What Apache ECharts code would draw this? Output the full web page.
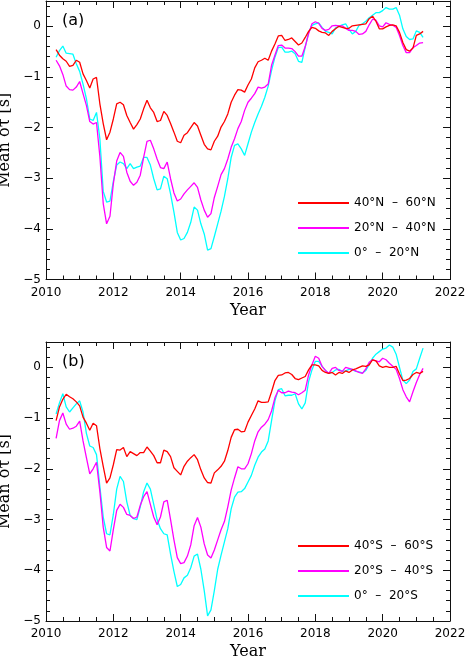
<!DOCTYPE html>
<html>
<head>
<meta charset="utf-8">
<script src="https://cdn.jsdelivr.net/npm/echarts@6/dist/echarts.min.js"></script>
<style>
  html, body { margin: 0; padding: 0; background: #fff; }
  #chart { width: 465px; height: 657px; }
</style>
</head>
<body>
<div id="chart"></div>
<script>
// 时间轴（年）
const years = [
  2010.3, 2010.4, 2010.5, 2010.6, 2010.7, 2010.8, 2010.9,
  2011.0, 2011.1, 2011.2, 2011.3, 2011.4, 2011.5, 2011.6, 2011.7, 2011.8, 2011.9,
  2012.0, 2012.1, 2012.2, 2012.3, 2012.4, 2012.5, 2012.6, 2012.7, 2012.8, 2012.9,
  2013.0, 2013.1, 2013.2, 2013.3, 2013.4, 2013.5, 2013.6, 2013.7, 2013.8, 2013.9,
  2014.0, 2014.1, 2014.2, 2014.3, 2014.4, 2014.5, 2014.6, 2014.7, 2014.8, 2014.9,
  2015.0, 2015.1, 2015.2, 2015.3, 2015.4, 2015.5, 2015.6, 2015.7, 2015.8, 2015.9,
  2016.0, 2016.1, 2016.2, 2016.3, 2016.4, 2016.5, 2016.6, 2016.7, 2016.8, 2016.9,
  2017.0, 2017.1, 2017.2, 2017.3, 2017.4, 2017.5, 2017.6, 2017.7, 2017.8, 2017.9,
  2018.0, 2018.1, 2018.2, 2018.3, 2018.4, 2018.5, 2018.6, 2018.7, 2018.8, 2018.9,
  2019.0, 2019.1, 2019.2, 2019.3, 2019.4, 2019.5, 2019.6, 2019.7, 2019.8, 2019.9,
  2020.0, 2020.1, 2020.2, 2020.3, 2020.4, 2020.5, 2020.6, 2020.7, 2020.8, 2020.9,
  2021.0, 2021.1, 2021.2
];

// (a) 北半球
const namesN = ["40°N  –  60°N", "20°N  –  40°N", "0°  –  20°N"];
const n40to60 = [
  -0.46, -0.57, -0.64, -0.69, -0.79, -0.77, -0.67,
  -0.71, -0.94, -1.07, -1.22, -1.04, -1.01, -1.53, -1.92, -2.24, -2.09,
  -1.83, -1.53, -1.50, -1.55, -1.76, -1.90, -2.03, -1.94, -1.83, -1.63,
  -1.46, -1.61, -1.70, -1.88, -1.86, -1.68, -1.76, -1.92, -2.09, -2.27,
  -2.30, -2.15, -2.10, -2.00, -1.90, -1.97, -2.15, -2.33, -2.42, -2.44,
  -2.27, -2.17, -1.99, -1.88, -1.73, -1.50, -1.36, -1.25, -1.26, -1.30,
  -1.16, -1.04, -0.82, -0.70, -0.67, -0.63, -0.67, -0.49, -0.35, -0.19,
  -0.18, -0.28, -0.26, -0.23, -0.30, -0.37, -0.33, -0.22, -0.10, -0.02,
  -0.04, -0.09, -0.12, -0.13, -0.18, -0.10, -0.05, 0.00, -0.02, -0.04,
  -0.04, 0.01, 0.02, 0.03, 0.04, 0.05, 0.15, 0.20, 0.10, -0.05,
  -0.05, -0.01, 0.02, 0.03, 0.01, -0.12, -0.32, -0.46, -0.49, -0.43,
  -0.18, -0.15, -0.10
];
const n20to40 = [
  -0.67, -0.78, -0.95, -1.18, -1.25, -1.26, -1.20,
  -1.09, -1.33, -1.56, -1.88, -1.93, -1.90, -2.57, -3.50, -3.90, -3.75,
  -3.11, -2.66, -2.49, -2.57, -2.88, -3.06, -3.14, -3.08, -2.94, -2.59,
  -2.27, -2.25, -2.42, -2.62, -2.79, -2.81, -2.68, -3.01, -3.29, -3.45,
  -3.41, -3.31, -3.23, -3.16, -3.09, -3.18, -3.43, -3.63, -3.77, -3.70,
  -3.38, -3.16, -2.93, -2.81, -2.62, -2.39, -2.22, -2.02, -1.88, -1.66,
  -1.50, -1.42, -1.33, -1.20, -1.22, -1.20, -1.14, -0.77, -0.57, -0.38,
  -0.37, -0.43, -0.43, -0.44, -0.50, -0.59, -0.59, -0.40, -0.15, 0.05,
  0.09, 0.06, -0.04, -0.08, -0.06, 0.01, 0.02, 0.01, 0.01, -0.04,
  -0.08, -0.08, -0.10, -0.16, -0.15, -0.10, 0.03, 0.14, 0.12, 0.01,
  -0.01, 0.07, 0.04, 0.02, -0.02, -0.18, -0.38, -0.52, -0.52, -0.42,
  -0.38, -0.33, -0.32
];
const n0to20 = [
  -0.61, -0.48, -0.39, -0.53, -0.54, -0.55, -0.74,
  -0.89, -1.14, -1.43, -1.83, -1.86, -1.70, -2.22, -3.26, -3.47, -3.45,
  -3.06, -2.74, -2.68, -2.71, -2.81, -2.71, -2.81, -2.78, -2.76, -2.59,
  -2.59, -2.74, -3.01, -3.23, -3.21, -2.96, -3.01, -3.31, -3.67, -4.07,
  -4.22, -4.19, -4.07, -3.87, -3.57, -3.63, -3.90, -4.10, -4.42, -4.39,
  -4.15, -3.90, -3.65, -3.36, -3.01, -2.59, -2.35, -2.32, -2.42, -2.55,
  -2.32, -2.09, -1.90, -1.73, -1.58, -1.40, -1.18, -0.87, -0.61, -0.42,
  -0.41, -0.51, -0.51, -0.49, -0.54, -0.69, -0.71, -0.41, -0.12, 0.02,
  0.05, 0.07, -0.02, -0.10, -0.12, -0.15, -0.03, 0.00, 0.03, 0.05,
  -0.06, -0.15, -0.10, 0.02, 0.05, 0.10, 0.17, 0.22, 0.27, 0.27,
  0.31, 0.37, 0.34, 0.34, 0.37, 0.22, -0.05, -0.20, -0.26, -0.25,
  -0.09, -0.12, -0.22
];

// (b) 南半球
const namesS = ["40°S  –  60°S", "20°S  –  40°S", "0°  –  20°S"];
const s40to60 = [
  -1.05, -0.78, -0.63, -0.53, -0.58, -0.62, -0.68,
  -0.76, -0.98, -1.10, -1.24, -1.10, -1.15, -1.60, -1.95, -2.28, -2.18,
  -1.92, -1.62, -1.63, -1.58, -1.76, -1.66, -1.70, -1.74, -1.68, -1.68,
  -1.57, -1.65, -1.74, -1.88, -1.88, -1.63, -1.66, -1.76, -1.98, -2.05,
  -2.12, -1.95, -1.85, -1.78, -1.72, -1.82, -2.02, -2.18, -2.27, -2.28,
  -2.08, -2.02, -1.95, -1.85, -1.64, -1.38, -1.23, -1.22, -1.27, -1.26,
  -1.08, -0.95, -0.82, -0.66, -0.69, -0.69, -0.68, -0.48, -0.26, -0.16,
  -0.15, -0.11, -0.10, -0.14, -0.22, -0.24, -0.21, -0.18, -0.05, 0.05,
  0.05, 0.03, -0.06, -0.10, -0.12, -0.10, -0.15, -0.10, -0.12, -0.07,
  -0.10, -0.05, -0.03, 0.00, 0.03, 0.02, 0.05, 0.15, 0.13, 0.03,
  0.00, 0.02, 0.00, 0.00, 0.02, -0.13, -0.26, -0.25, -0.22, -0.14,
  -0.10, -0.12, -0.08
];
const s20to40 = [
  -1.40, -1.05, -0.90, -1.12, -1.22, -1.20, -1.16,
  -1.06, -1.45, -1.78, -2.10, -2.00, -1.87, -2.45, -3.15, -3.55, -3.62,
  -3.20, -2.82, -2.70, -2.76, -2.90, -2.92, -2.98, -2.95, -2.72, -2.55,
  -2.45, -2.70, -2.95, -3.10, -2.95, -2.65, -2.62, -3.00, -3.40, -3.75,
  -3.87, -3.85, -3.72, -3.50, -3.12, -2.96, -3.15, -3.48, -3.70, -3.76,
  -3.60, -3.40, -3.20, -3.04, -2.75, -2.42, -2.18, -1.96, -2.00, -2.00,
  -1.90, -1.70, -1.45, -1.27, -1.18, -1.12, -1.03, -0.86, -0.60, -0.45,
  -0.50, -0.50, -0.47, -0.49, -0.50, -0.54, -0.50, -0.45, -0.15, 0.05,
  0.22, 0.18, 0.02, -0.06, -0.12, -0.02, 0.00, -0.06, -0.08, 0.00,
  -0.02, -0.04, -0.07, -0.10, -0.12, -0.03, 0.10, 0.15, 0.13, 0.11,
  0.18, 0.15, 0.08, 0.02, -0.04, -0.22, -0.44, -0.58, -0.68, -0.48,
  -0.30, -0.14, -0.02
];
const s0to20 = [
  -0.92, -0.70, -0.52, -0.78, -0.88, -0.80, -0.72,
  -0.66, -0.88, -1.30, -1.55, -1.58, -1.72, -2.35, -2.95, -3.28, -3.30,
  -2.90, -2.40, -2.15, -2.25, -2.65, -2.92, -2.98, -3.00, -2.75, -2.45,
  -2.28, -2.40, -2.70, -3.00, -3.18, -3.28, -3.30, -3.68, -4.02, -4.32,
  -4.28, -4.15, -4.10, -3.95, -3.72, -3.68, -3.98, -4.40, -4.90, -4.78,
  -4.40, -3.98, -3.70, -3.44, -3.18, -2.79, -2.56, -2.46, -2.45, -2.39,
  -2.26, -2.13, -1.93, -1.77, -1.67, -1.61, -1.45, -1.05, -0.66, -0.44,
  -0.42, -0.56, -0.55, -0.55, -0.52, -0.72, -0.82, -0.70, -0.28, -0.05,
  0.12, 0.12, 0.02, -0.06, -0.12, -0.10, -0.05, -0.04, -0.08, -0.07,
  -0.04, -0.04, -0.08, -0.09, -0.11, -0.06, 0.06, 0.18, 0.26, 0.31,
  0.36, 0.38, 0.44, 0.40, 0.26, 0.00, -0.25, -0.32, -0.25, -0.08,
  -0.03, 0.18, 0.38
];

const colors = ["#ff0000", "#ff00ff", "#00ffff"];
const ink = "#111111";
const tickFont = "DejaVu Sans";
const nameFont = "DejaVu Serif";

const chart = echarts.init(document.getElementById("chart"));

const panelRects = [
  { left: 46, width: 404, top: 1, height: 278.5 },
  { left: 46, width: 404, top: 342, height: 279 }
];

const grids = [];
const xAxes = [];
const yAxes = [];
const series = [];
const legends = [];
const titles = [];

function pairs(vals) {
  return years.map((y, i) => [y, vals[i]]);
}

// 每个面板叠放 4 个同尺寸 grid：主刻度（下/左、上/右）和小刻度（下/左、上/右）
function addPanel(p, label, names, data, legendTop) {
  const rect = panelRects[p];
  const layers = [
    { xPos: "bottom", yPos: "left", xInt: 2, yInt: 1, len: 7, line: true, main: true },
    { xPos: "top", yPos: "right", xInt: 2, yInt: 1, len: 7, line: true, main: false },
    { xPos: "bottom", yPos: "left", xInt: 0.5, yInt: 0.2, len: 4, line: false, main: false },
    { xPos: "top", yPos: "right", xInt: 0.5, yInt: 0.2, len: 4, line: false, main: false }
  ];
  layers.forEach((L) => {
    const g = grids.length;
    grids.push(Object.assign({ outerBoundsMode: "none", containLabel: false }, rect));
    const xAxis = {
      gridIndex: g, type: "value", position: L.xPos,
      min: 2010, max: 2022, interval: L.xInt,
      axisLine: { show: L.line, onZero: false, lineStyle: { color: ink, width: 1 } },
      axisTick: { show: true, inside: true, length: L.len, lineStyle: { color: ink, width: 1 } },
      axisLabel: {
        show: L.main, color: "#000", fontFamily: tickFont, fontSize: 12, margin: 7,
        formatter: (v) => L.main ? String(v) : ""
      },
      splitLine: { show: false }
    };
    const yAxis = {
      gridIndex: g, type: "value", position: L.yPos,
      min: -5, max: 0.5, interval: L.yInt,
      axisLine: { show: L.line, onZero: false, lineStyle: { color: ink, width: 1 } },
      axisTick: { show: true, inside: true, length: L.len, lineStyle: { color: ink, width: 1 } },
      axisLabel: {
        show: L.main, color: "#000", fontFamily: tickFont, fontSize: 12, margin: 5,
        formatter: (v) => (L.main && Number.isInteger(v)) ? String(v).replace("-", "\u2212") : ""
      },
      splitLine: { show: false }
    };
    if (L.main) {
      Object.assign(xAxis, {
        name: "Year", nameLocation: "middle", nameGap: 23,
        nameTextStyle: { color: "#000", fontFamily: nameFont, fontSize: 16 }
      });
      Object.assign(yAxis, {
        name: "Mean δτ [s]", nameLocation: "middle", nameGap: 18, nameRotate: 90,
        nameTextStyle: { color: "#000", fontFamily: nameFont, fontSize: 16 }
      });
    }
    xAxes.push(xAxis);
    yAxes.push(yAxis);
    if (L.main) {
      // 画线顺序：青、品红、红
      [2, 1, 0].forEach((k) => {
        series.push({
          name: names[k], type: "line",
          xAxisIndex: g, yAxisIndex: g,
          data: pairs(data[k]),
          showSymbol: false,
          lineStyle: { color: colors[k], width: 1.3 },
          itemStyle: { color: colors[k] }
        });
      });
    } else {
      // 透明系列，让这一层坐标轴有数据
      series.push({
        type: "line", xAxisIndex: g, yAxisIndex: g,
        data: pairs(data[0]), showSymbol: false, silent: true,
        lineStyle: { opacity: 0 }, itemStyle: { opacity: 0 }
      });
    }
  });
  legends.push({
    data: names.map((n) => ({ name: n, icon: "rect" })),
    orient: "vertical", left: 298, top: legendTop, padding: 0,
    itemWidth: 51, itemHeight: 2, itemGap: 9,
    textStyle: { color: "#000", fontFamily: tickFont, fontSize: 12, lineHeight: 16 }
  });
  titles.push({
    text: label, left: 62, top: rect.top + 12, padding: 0,
    textStyle: { color: "#000", fontFamily: tickFont, fontSize: 16, fontWeight: "normal" }
  });
}

addPanel(0, "(a)", namesN, [n40to60, n20to40, n0to20], 195);
addPanel(1, "(b)", namesS, [s40to60, s20to40, s0to20], 538);

chart.setOption({
  animation: false,
  title: titles,
  grid: grids,
  xAxis: xAxes,
  yAxis: yAxes,
  legend: legends,
  series: series
});
</script>
</body>
</html>
